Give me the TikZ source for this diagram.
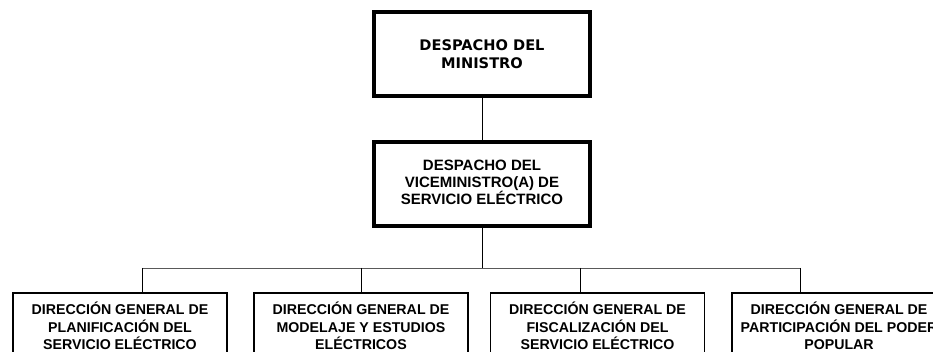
\documentclass[tikz,border=0pt]{standalone}
\usepackage{fontspec}
\setmainfont{Liberation Sans}
\newfontfamily\dejavubold{DejaVu Sans}[BoldFont={DejaVu Sans Bold}]
\usetikzlibrary{calc}

\tikzset{
  topbox/.style={draw=black,line width=3.4pt,fill=white,minimum width=216pt,minimum height=84pt,
    align=center,inner sep=0pt,font=\fontsize{15}{18.5}\selectfont\bfseries},
  dirbox/.style={draw=black,line width=1.7pt,fill=white,minimum width=214pt,minimum height=66pt,
    align=center,inner sep=0pt,font=\fontsize{14.2}{17.5}\selectfont\bfseries},
  link/.style={draw=black,line width=0.8pt},
  bar/.style={draw=black!65,line width=0.9pt}
}

\begin{document}
\begin{tikzpicture}[x=1pt,y=1pt]
\useasboundingbox (0.000000, 0.000000) rectangle (933.000000, 352.000000);
\clip (0.000000, 0.000000) rectangle (933.000000, 352.000000);
\fill[white] (0.000000, 0.000000) rectangle (933.000000, 352.000000);
% Level 1: despacho del ministro
\node[topbox,font=\dejavubold\fontsize{14.6}{18}\selectfont\bfseries] (min) at (482.000000, 298.000000) {DESPACHO DEL\\MINISTRO};
% Level 2: despacho del viceministro
\node[topbox] (vice) at (482.000000, 168.000000) {\raisebox{-5pt}{\begin{tabular}{@{}c@{}}DESPACHO DEL\\[-1.5pt]VICEMINISTRO(A) DE\\[-1.5pt]SERVICIO ELÉCTRICO\end{tabular}}};
% Level 3: direcciones generales
\node[dirbox] (dir1) at (120.000000, 26.000000) {DIRECCIÓN GENERAL DE\\PLANIFICACIÓN DEL\\SERVICIO ELÉCTRICO};
\node[dirbox] (dir2) at (361.000000, 26.000000) {DIRECCIÓN GENERAL DE\\MODELAJE Y ESTUDIOS\\ELÉCTRICOS};
\node[dirbox] (dir3) at (597.500000, 26.000000) {DIRECCIÓN GENERAL DE\\FISCALIZACIÓN DEL\\SERVICIO ELÉCTRICO};
\node[dirbox] (dir4) at (839.000000, 26.000000) {DIRECCIÓN GENERAL DE\\PARTICIPACIÓN DEL PODER\\POPULAR};
% Drop points on the bar
\coordinate (trunk) at (482.000000, 84.000000);
\coordinate (d1) at (142.000000, 84.000000);
\coordinate (d2) at (361.000000, 84.000000);
\coordinate (d3) at (580.000000, 84.000000);
\coordinate (d4) at (800.000000, 84.000000);
% Connectors
\draw[link] (min.south) -- (vice.north);
\draw[link] (vice.south) -- (trunk);
\draw[bar] (d1) -- (d4);
\draw[link] (d1) -- (d1 |- dir1.north);
\draw[link] (d2) -- (d2 |- dir2.north);
\draw[link] (d3) -- (d3 |- dir3.north);
\draw[link] (d4) -- (d4 |- dir4.north);
\end{tikzpicture}
\end{document}
